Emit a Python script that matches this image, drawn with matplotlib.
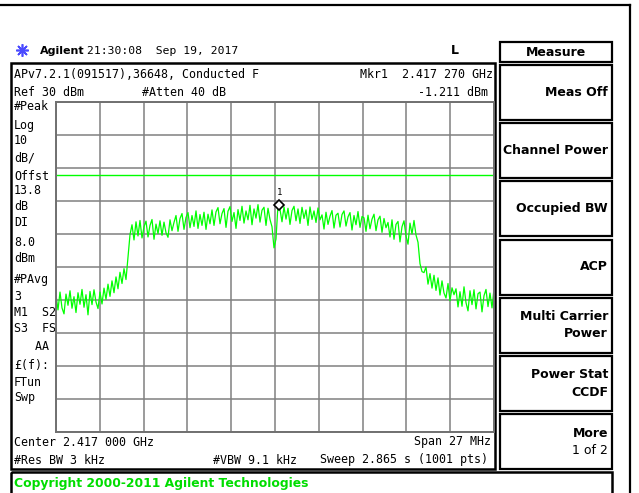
import numpy as np
import matplotlib.pyplot as plt
from matplotlib.patches import Rectangle

# analyzer settings shown on screen
center_ghz = 2.417
span_mhz = 27.0
ref_dbm = 30.0
db_per_div = 10.0
n_div = 10
display_line_dbm = 8.0
mkr_ghz = 2.41727
mkr_dbm = -1.211

# trace, roughly one value per 2 px, left to right
trace_dbm = [
    -28.5, -33.0, -27.6, -32.4, -34.2, -28.2, -31.6, -27.2, -32.5, -29.0, -33.8,
    -27.8, -31.3, -26.8, -32.2, -28.4, -34.5, -27.4, -31.4, -26.9, -30.6, -32.6,
    -27.6, -31.2, -26.4, -29.8, -25.2, -28.9, -24.2, -27.8, -23.0, -26.6, -21.6,
    -25.0, -20.5,
    -23.8, -17.0, -10.2,
    -7.2, -11.8, -6.3, -10.6, -5.9, -11.2, -7.8, -6.1, -10.9, -7.4, -5.6,
    -11.6, -7.0, -9.9, -6.0, -10.4, -6.4, -9.6, -11.0, -5.7, -9.0, -6.5,
    -4.4, -9.2, -5.3, -3.8, -8.6, -5.0, -3.5, -8.1, -4.4, -7.7, -3.0,
    -8.3, -4.1, -7.4, -3.4, -8.6, -4.0, -6.9,
    -2.7, -7.4, -3.3, -2.0, -6.9, -3.8, -2.3, -8.0, -3.1, -1.7, -6.2,
    -3.5, -8.3, -2.6, -5.9, -1.6, -6.7, -3.0, -5.7, -1.3, -7.2, -2.4,
    -5.2, -1.1, -6.4, -2.8, -1.9, -7.4, -2.2, -5.6,
    -7.8, -14.2, -11.5, -1.2,
    -2.6, -6.3, -1.8, -5.5, -2.2, -7.1, -2.9, -1.6, -6.0, -2.4, -6.8,
    -1.9, -5.3, -2.7, -7.4, -1.8, -5.6, -3.0, -6.5, -2.1, -5.7,
    -4.2, -8.5, -3.4, -7.1, -4.6, -2.9, -8.2, -4.3, -3.7, -7.9, -4.1,
    -3.0, -7.6, -4.8, -3.5, -8.8, -4.4, -7.2, -3.2, -8.0, -4.7,
    -5.1, -9.2, -4.3, -8.4, -5.5, -4.0, -9.0, -5.7, -4.6, -9.5, -5.3, -8.1,
    -6.5, -10.9, -5.7, -11.6, -7.1, -6.2, -12.4, -7.8, -6.0, -10.6, -13.1,
    -6.7, -10.0, -5.9, -10.3,
    -12.5, -19.0, -21.4,
    -21.7, -20.0, -25.2, -22.0, -26.4, -22.5, -27.1, -23.3, -28.5, -24.2,
    -27.9, -29.4, -25.0, -30.2, -26.3,
    -28.4, -26.6, -32.1, -27.5, -31.9, -26.0, -30.8, -33.3, -27.2, -31.4,
    -26.9, -32.7, -28.1, -27.6, -33.6, -28.7, -26.8, -32.0, -27.9, -32.4, -26.6,
]

header_text = "21:30:08  Sep 19, 2017"
title_line = "APv7.2.1(091517),36648, Conducted F"
mkr_line = "Mkr1  2.417 270 GHz"
mkr_value = "-1.211 dBm"
ref_text = "Ref 30 dBm"
atten_text = "#Atten 40 dB"
left_labels = ["#Peak", "Log", "10", "dB/", "Offst", "13.8", "dB", "DI", "8.0",
               "dBm", "#PAvg", "3", "M1  S2", "S3  FS", "   AA", "£(f):", "FTun", "Swp"]
bottom_left = ["Center 2.417 000 GHz", "#Res BW 3 kHz"]
vbw_text = "#VBW 9.1 kHz"
bottom_right = ["Span 27 MHz", "Sweep 2.865 s (1001 pts)"]
softkeys = [["Meas Off"], ["Channel Power"], ["Occupied BW"], ["ACP"],
            ["Multi Carrier", "Power"], ["Power Stat", "CCDF"], ["More", "1 of 2"]]
copyright_text = "Copyright 2000-2011 Agilent Technologies"

W, H = 639, 493
fig = plt.figure(figsize=(W / 100, H / 100), dpi=100)
fig.patch.set_facecolor("white")

# overlay in screen pixels for frames and annotation text
bg = fig.add_axes([0, 0, 1, 1])
bg.set_xlim(0, W)
bg.set_ylim(H, 0)
bg.axis("off")

mono = "DejaVu Sans Mono"
fs = 8.4

def box(x0, y0, x1, y1, lw=1.6):
    bg.add_patch(Rectangle((x0, y0), x1 - x0, y1 - y0, fill=False, ec="black", lw=lw))

# outer frame
bg.plot([0, 630], [5, 5], color="black", lw=1.6)
bg.plot([630, 630], [5, H], color="black", lw=1.6)
box(11, 63, 495, 469, lw=1.8)
box(11, 472, 612, 500, lw=1.8)

# header
bg.plot(22, 50, marker=(8, 2, 0), ms=9, color="#4a4aff", mew=1.2)
bg.text(40, 51, "Agilent", fontsize=8, fontweight="bold", va="center", family="DejaVu Sans")
bg.text(87, 51, header_text, fontsize=8.2, va="center", family=mono)
bg.text(455, 51, "L", fontsize=9, fontweight="bold", va="center", ha="center", family="DejaVu Sans")

# text above the graticule
bg.text(14, 74, title_line, fontsize=fs, va="center", family=mono)
bg.text(493, 74, mkr_line, fontsize=fs, va="center", ha="right", family=mono)
bg.text(14, 92, ref_text, fontsize=fs, va="center", family=mono)
bg.text(142, 92, atten_text, fontsize=fs, va="center", family=mono)
bg.text(488, 92, mkr_value, fontsize=fs, va="center", ha="right", family=mono)

left_y = [107, 125, 141, 158, 176, 191, 206, 223, 243, 258, 279, 296, 312, 329,
          347, 365, 382, 398]
for lab, y in zip(left_labels, left_y):
    bg.text(14, y, lab, fontsize=fs, va="center", family=mono)

bg.text(14, 442, bottom_left[0], fontsize=fs, va="center", family=mono)
bg.text(14, 460, bottom_left[1], fontsize=fs, va="center", family=mono)
bg.text(213, 460, vbw_text, fontsize=fs, va="center", family=mono)
bg.text(491, 442, bottom_right[0], fontsize=fs, va="center", ha="right", family=mono)
bg.text(488, 460, bottom_right[1], fontsize=fs, va="center", ha="right", family=mono)

# softkey panel
box(500, 42, 612, 62)
bg.text(556, 52, "Measure", fontsize=9, fontweight="bold", va="center", ha="center")
for k, lines in enumerate(softkeys):
    y0 = 65 + k * 58.2
    box(500, y0, 612, y0 + 55)
    if len(lines) == 1:
        bg.text(608, y0 + 27, lines[0], fontsize=9, fontweight="bold", va="center", ha="right")
    else:
        w2 = "bold" if k != len(softkeys) - 1 else "normal"
        bg.text(608, y0 + 19, lines[0], fontsize=9, fontweight="bold", va="center", ha="right")
        bg.text(608, y0 + 36, lines[1], fontsize=9, fontweight=w2, va="center", ha="right")

bg.text(14, 483, copyright_text, fontsize=8.9, fontweight="bold", color="#00dd00", va="center")

# graticule with trace
ax = fig.add_axes([56 / W, (H - 432) / H, 438 / W, 330 / H])
f0 = center_ghz - span_mhz / 2000
f1 = center_ghz + span_mhz / 2000
bottom_dbm = ref_dbm - n_div * db_per_div
ax.set_xlim(f0, f1)
ax.set_ylim(bottom_dbm, ref_dbm)
ax.set_xticks(np.linspace(f0, f1, n_div + 1))
ax.set_yticks(np.linspace(bottom_dbm, ref_dbm, n_div + 1))
ax.tick_params(length=0, labelbottom=False, labelleft=False)
ax.grid(True, color="#808080", lw=1.1)
for sp in ax.spines.values():
    sp.set_color("#707070")
    sp.set_linewidth(1.4)

freq_ghz = np.linspace(f0, f1, len(trace_dbm))
ax.plot(freq_ghz, trace_dbm, color="#00ff00", lw=0.9)
ax.axhline(display_line_dbm, color="#00ff00", lw=1.0)
ax.plot(mkr_ghz, mkr_dbm, marker="D", ms=5, mfc="white", mec="black", mew=1.2)
ax.annotate("1", (mkr_ghz, mkr_dbm), xytext=(0, 7), textcoords="offset points",
            ha="center", fontsize=6.5, family=mono)

fig.savefig("out.png", dpi=100)
